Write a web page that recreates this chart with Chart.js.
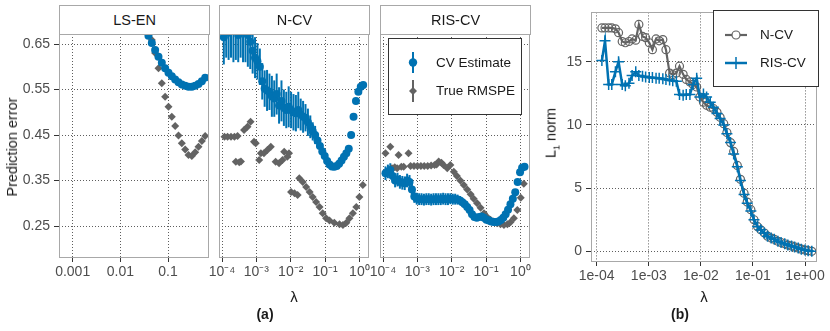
<!DOCTYPE html>
<html>
<head>
<meta charset="utf-8">
<script src="https://cdn.jsdelivr.net/npm/chart.js"></script>
<style>
  body { margin: 0; background: #fff; font-family: "Liberation Sans", Arial, sans-serif; }
  #page { position: relative; width: 830px; height: 331px; overflow: hidden; }
  canvas { position: absolute; left: 0; top: 0; }
  .strip { position: absolute; top: 5px; height: 30px; box-sizing: border-box; border: 1px solid #a8a8a8; background: #fff;
           text-align: center; line-height: 28px; font-size: 14.5px; color: #1a1a1a; }
  .txt { position: absolute; transform: translate(-50%, -50%); white-space: nowrap; color: #1a1a1a; }
  .rot { transform: translate(-50%, -50%) rotate(-90deg); }
</style>
</head>
<body>
<div id="page">
  <canvas id="cLs" width="830" height="331"></canvas>
  <canvas id="cNcv" width="830" height="331"></canvas>
  <canvas id="cRis" width="830" height="331"></canvas>
  <canvas id="cL1" width="830" height="331"></canvas>

  <div class="strip" style="left:59px;width:151px;">LS-EN</div>
  <div class="strip" style="left:219px;width:151px;">N-CV</div>
  <div class="strip" style="left:380px;width:151px;">RIS-CV</div>

  <div class="txt rot" style="left:12px;top:147px;font-size:14.5px;">Prediction error</div>
  <div class="txt" style="left:294px;top:296px;font-size:15px;">λ</div>
  <div class="txt" style="left:265px;top:314px;font-size:14px;font-weight:bold;">(a)</div>
  <div class="txt rot" style="left:552px;top:133px;font-size:14.5px;">L<sub style="font-size:9px;">1</sub> norm</div>
  <div class="txt" style="left:704px;top:296px;font-size:15px;">λ</div>
  <div class="txt" style="left:680px;top:314px;font-size:14px;font-weight:bold;">(b)</div>
</div>

<script>
// datos: exponentes de lambda (base 10) y valores
const lsLamExp = [-1.41,-1.34,-1.27,-1.20,-1.13,-1.06,-0.99,-0.92,-0.85,-0.78,-0.71,-0.64,-0.57,-0.50,-0.43,-0.36,-0.29,-0.22];
const lsCv     = [0.668,0.652,0.637,0.622,0.609,0.597,0.587,0.579,0.572,0.566,0.561,0.558,0.556,0.556,0.558,0.562,0.568,0.576];
const lsTrue   = [0.675,0.659,0.630,0.597,0.564,0.534,0.512,0.490,0.470,0.449,0.432,0.418,0.406,0.404,0.412,0.424,0.437,0.448];

const ncvCvExp = [-3.95,-3.88,-3.81,-3.74,-3.67,-3.60,-3.53,-3.46,-3.39,-3.32,
                  -3.25,-3.18,-3.11,-3.04,-2.97,-2.90,-2.83,-2.76,-2.69,-2.62,
                  -2.55,-2.48,-2.41,-2.34,-2.27,-2.20,-2.13,-2.06,-1.99,-1.92,
                  -1.85,-1.78,-1.71,-1.64,-1.57,-1.50,-1.43,-1.36,-1.29,-1.22,
                  -1.15,-1.08,-1.01,-0.94,-0.87,-0.80,-0.73,-0.66,-0.59,-0.52,
                  -0.45,-0.38,-0.31,-0.24,-0.17,-0.10,-0.03,0.04,0.11];
const ncvCv    = [0.665,0.69,0.675,0.70,0.68,0.695,0.67,0.70,0.68,0.69,
                  0.67,0.655,0.635,0.62,0.612,0.60,0.568,0.552,0.548,0.545,
                  0.535,0.53,0.54,0.515,0.525,0.51,0.505,0.512,0.505,0.50,
                  0.498,0.505,0.495,0.49,0.488,0.478,0.468,0.458,0.45,0.438,
                  0.426,0.414,0.404,0.393,0.385,0.381,0.38,0.382,0.387,0.394,
                  0.402,0.41,0.42,0.45,0.49,0.525,0.545,0.556,0.56];
const ncvCvErr = [0.06,0.07,0.06,0.08,0.07,0.08,0.06,0.08,0.07,0.08,
                  0.07,0.06,0.05,0.045,0.04,0.04,0.04,0.04,0.045,0.04,
                  0.045,0.04,0.045,0.04,0.045,0.04,0.04,0.045,0.04,0.04,
                  0.04,0.04,0.035,0.035,0.03,0.03,0.025,0.02,0.02,0.015,
                  0.015,0.01,0.01,0.008,0.006,0.005,0.005,0.005,0.005,0.005,
                  0.004,0.004,0.004,0.004,0.004,0.004,0.004,0.004,0.004];
const ncvTrueExp = [-3.93,-3.84,-3.74,-3.64,-3.55,-3.60,-3.50,-3.45,-3.36,-3.26,-3.17,-3.07,-3.02,-2.92,-2.87,-2.78,
                    -2.68,-2.58,-2.44,-2.34,-2.24,-2.19,-2.10,-2.05,-1.99,-1.89,-1.80,-1.75,-1.65,-1.55,-1.45,-1.36,
                    -1.26,-1.16,-1.07,-0.97,-0.87,-0.73,-0.58,-0.48,-0.38,-0.29,-0.19,-0.09,0.00,0.10];
const ncvTrue    = [0.446,0.446,0.446,0.446,0.448,0.391,0.390,0.392,0.461,0.468,0.479,0.435,0.432,0.395,0.41,0.41,
                    0.417,0.424,0.391,0.388,0.395,0.413,0.402,0.41,0.325,0.322,0.318,0.355,0.347,0.336,0.325,0.314,
                    0.303,0.292,0.278,0.267,0.262,0.257,0.254,0.252,0.257,0.267,0.278,0.292,0.314,0.34];

const risCvExp = [-3.93,-3.86,-3.79,-3.72,-3.65,-3.58,-3.51,-3.44,-3.37,-3.30,
                  -3.23,-3.16,-3.09,-3.02,-2.95,-2.88,-2.81,-2.74,-2.67,-2.60,
                  -2.53,-2.46,-2.39,-2.32,-2.25,-2.18,-2.11,-2.04,-1.97,-1.90,
                  -1.83,-1.76,-1.69,-1.62,-1.55,-1.48,-1.41,-1.34,-1.27,-1.20,
                  -1.13,-1.06,-0.99,-0.92,-0.85,-0.78,-0.71,-0.64,-0.57,-0.50,
                  -0.43,-0.36,-0.29,-0.22,-0.15,-0.08,-0.01,0.05,0.12];
const risCv    = [0.366,0.37,0.373,0.36,0.35,0.352,0.347,0.345,0.344,0.35,
                  0.347,0.33,0.315,0.31,0.309,0.309,0.308,0.309,0.309,0.308,
                  0.309,0.309,0.309,0.309,0.31,0.309,0.309,0.31,0.309,0.309,
                  0.308,0.306,0.302,0.298,0.292,0.285,0.276,0.27,0.268,0.27,
                  0.271,0.268,0.264,0.262,0.26,0.259,0.259,0.26,0.263,0.268,
                  0.276,0.286,0.298,0.31,0.324,0.347,0.368,0.378,0.38];
const risCvErr = [0.015,0.015,0.015,0.015,0.015,0.015,0.015,0.015,0.015,0.015,
                  0.015,0.015,0.014,0.013,0.013,0.013,0.013,0.013,0.013,0.013,
                  0.013,0.013,0.013,0.013,0.013,0.013,0.013,0.012,0.012,0.012,
                  0.011,0.01,0.01,0.008,0.008,0.007,0.007,0.006,0.006,0.006,
                  0.005,0.005,0.005,0.005,0.005,0.004,0.004,0.004,0.004,0.004,
                  0.004,0.004,0.004,0.004,0.004,0.004,0.004,0.004,0.004];
const risTrueExp = [-3.93,-3.79,-3.74,-3.66,-3.59,-3.55,-3.47,-3.40,-3.26,-3.20,-3.10,-3.00,-2.90,-2.80,-2.70,
                    -2.60,-2.50,-2.44,-2.38,-2.30,-2.24,-2.13,-2.04,-1.94,-1.85,-1.75,-1.65,-1.55,-1.45,-1.36,
                    -1.26,-1.16,-1.06,-0.97,-0.87,-0.78,-0.68,-0.58,-0.48,-0.38,-0.29,-0.19,-0.09,0.01,0.10];
const risTrue    = [0.41,0.424,0.377,0.379,0.377,0.406,0.38,0.38,0.41,0.382,0.382,0.382,0.382,0.382,0.382,
                    0.383,0.384,0.385,0.392,0.389,0.384,0.377,0.384,0.369,0.36,0.35,0.34,0.33,0.32,0.31,
                    0.30,0.29,0.278,0.27,0.264,0.26,0.256,0.254,0.252,0.254,0.258,0.267,0.285,0.312,0.343];

const l1LamExp = [-3.90,-3.84,-3.77,-3.71,-3.64,-3.58,-3.51,-3.45,-3.38,-3.32,
                  -3.25,-3.19,-3.12,-3.06,-2.99,-2.93,-2.86,-2.80,-2.73,-2.67,
                  -2.60,-2.54,-2.47,-2.41,-2.34,-2.28,-2.21,-2.15,-2.08,-2.02,
                  -1.95,-1.89,-1.82,-1.76,-1.69,-1.63,-1.56,-1.50,-1.43,-1.37,
                  -1.30,-1.24,-1.17,-1.11,-1.04,-0.98,-0.91,-0.85,-0.78,-0.72,
                  -0.65,-0.59,-0.52,-0.46,-0.39,-0.33,-0.26,-0.20,-0.13,-0.07,
                  0.00,0.06,0.13];
const l1Ncv = [17.67,17.67,17.67,17.67,17.6,17.3,16.6,16.5,16.6,16.8,
               16.7,17.95,17.0,16.9,16.5,15.95,16.8,16.65,16.75,15.95,
               14.1,13.98,14.1,14.65,14.0,13.6,13.4,13.2,13.0,12.2,
               11.8,11.55,11.4,11.3,11.0,10.6,10.1,9.4,8.6,7.9,
               6.8,5.7,4.6,3.9,3.3,2.5,1.95,1.7,1.45,1.2,
               1.05,0.95,0.8,0.7,0.6,0.5,0.43,0.35,0.26,0.17,
               0.1,0.05,0.0];
const l1Ris = [15.1,16.65,13.2,13.2,14.2,15.0,13.2,13.1,13.3,13.9,
               14.2,13.9,13.85,13.8,13.75,13.75,13.7,13.7,13.65,13.6,
               13.55,13.5,13.45,12.4,12.35,12.4,12.4,13.2,13.7,12.2,
               12.45,12.2,11.8,11.4,10.9,10.5,10.0,9.3,8.6,7.7,
               6.7,5.6,4.5,3.8,3.2,2.5,1.95,1.7,1.45,1.2,
               1.05,0.95,0.8,0.7,0.6,0.5,0.43,0.35,0.26,0.17,
               0.1,0.05,0.0];

// ticks
const ticksErr = [0.25, 0.35, 0.45, 0.55, 0.65];
const ticksLs = [0.001, 0.01, 0.1];
const labelsLs = ['0.001', '0.01', '0.1'];
const ticksCv = [1e-4, 1e-3, 1e-2, 1e-1, 1];
const labelsCv = ['10⁻⁴', '10⁻³', '10⁻²', '10⁻¹', '10⁰'];
const labelsL1x = ['1e-04', '1e-03', '1e-02', '1e-01', '1e+00'];
const ticksL1 = [0, 5, 10, 15];

Chart.defaults.font.family = '"Liberation Sans", Arial, sans-serif';

const azul = '#0072B2';
const gris = '#636363';
const rejilla = '#5e5e5e';
const fuente = '13.5px "Liberation Sans", Arial, sans-serif';

function puntos(exps, vals) {
  return exps.map((e, i) => ({ x: Math.pow(10, e), y: vals[i] }));
}

// barras de error verticales (usa las escalas del grafico)
const barras = {
  id: 'barras',
  beforeDatasetsDraw(chart) {
    const ctx = chart.ctx, a = chart.chartArea;
    const xs = chart.scales.x, ys = chart.scales.y;
    ctx.save();
    ctx.beginPath();
    ctx.rect(a.left, a.top, a.right - a.left, a.bottom - a.top);
    ctx.clip();
    chart.data.datasets.forEach(ds => {
      if (!ds.errs) return;
      ctx.strokeStyle = ds.backgroundColor;
      ctx.lineWidth = 2;
      ds.data.forEach((p, i) => {
        const e = ds.errs[i];
        if (!e) return;
        const px = xs.getPixelForValue(p.x);
        ctx.beginPath();
        ctx.moveTo(px, ys.getPixelForValue(p.y - e));
        ctx.lineTo(px, ys.getPixelForValue(p.y + e));
        ctx.stroke();
      });
    });
    ctx.restore();
  }
};

// marco del panel
const marco = {
  id: 'marco',
  afterDraw(chart) {
    const ctx = chart.ctx, a = chart.chartArea;
    ctx.save();
    ctx.strokeStyle = '#a8a8a8';
    ctx.lineWidth = 1;
    ctx.strokeRect(Math.round(a.left) + 0.5, Math.round(a.top) + 0.5,
                   Math.round(a.right - a.left) - 1, Math.round(a.bottom - a.top) - 1);
    ctx.restore();
  }
};

const leyendaA = {
  id: 'leyendaA',
  afterDraw(chart) {
    const ctx = chart.ctx;
    ctx.save();
    ctx.fillStyle = '#fff';
    ctx.fillRect(388, 38, 134, 77);
    ctx.strokeStyle = '#333';
    ctx.lineWidth = 1;
    ctx.strokeRect(388.5, 38.5, 133, 76);
    // CV Estimate
    ctx.strokeStyle = azul; ctx.lineWidth = 2;
    ctx.beginPath(); ctx.moveTo(413, 52); ctx.lineTo(413, 73); ctx.stroke();
    ctx.fillStyle = azul;
    ctx.beginPath(); ctx.arc(413, 62.5, 4.2, 0, 2 * Math.PI); ctx.fill();
    // True RMSPE
    ctx.strokeStyle = gris;
    ctx.beginPath(); ctx.moveTo(413, 80); ctx.lineTo(413, 102); ctx.stroke();
    ctx.fillStyle = gris;
    ctx.beginPath(); ctx.moveTo(413, 87); ctx.lineTo(417, 91); ctx.lineTo(413, 95); ctx.lineTo(409, 91); ctx.closePath(); ctx.fill();
    ctx.fillStyle = '#1a1a1a';
    ctx.font = fuente;
    ctx.textBaseline = 'middle';
    ctx.fillText('CV Estimate', 436, 63);
    ctx.fillText('True RMSPE', 436, 91.5);
    ctx.restore();
  }
};

const leyendaB = {
  id: 'leyendaB',
  afterDraw(chart) {
    const ctx = chart.ctx;
    ctx.save();
    ctx.fillStyle = '#fff';
    ctx.fillRect(713, 10, 106, 77);
    ctx.strokeStyle = '#333';
    ctx.lineWidth = 1;
    ctx.strokeRect(713.5, 10.5, 105, 76);
    // N-CV
    ctx.strokeStyle = gris; ctx.lineWidth = 2.2;
    ctx.beginPath(); ctx.moveTo(725, 35); ctx.lineTo(747, 35); ctx.stroke();
    ctx.lineWidth = 1.2;
    ctx.beginPath(); ctx.arc(736, 35, 4, 0, 2 * Math.PI); ctx.fillStyle = '#fff'; ctx.fill(); ctx.stroke();
    // RIS-CV
    ctx.strokeStyle = azul; ctx.lineWidth = 2.5;
    ctx.beginPath(); ctx.moveTo(725, 63); ctx.lineTo(747, 63); ctx.stroke();
    ctx.lineWidth = 1.5;
    ctx.beginPath(); ctx.moveTo(736, 57); ctx.lineTo(736, 69); ctx.moveTo(730, 63); ctx.lineTo(742, 63); ctx.stroke();
    ctx.fillStyle = '#1a1a1a';
    ctx.font = fuente;
    ctx.textBaseline = 'middle';
    ctx.fillText('N-CV', 760, 35.5);
    ctx.fillText('RIS-CV', 760, 63.5);
    ctx.restore();
  }
};

function ejeX(minExp, maxExp, ticks, labels, alto) {
  return {
    type: 'logarithmic',
    position: 'bottom',
    min: Math.pow(10, minExp),
    max: Math.pow(10, maxExp),
    afterBuildTicks: ax => { ax.ticks = ticks.map(v => ({ value: v })); },
    afterFit: ax => { ax.height = alto; },
    ticks: { callback: (v, i) => labels[i], autoSkip: false, maxRotation: 0, minRotation: 0,
             color: '#4d4d4d', font: { size: 14 }, padding: 2 },
    grid: { color: rejilla, lineWidth: 1, tickColor: '#333', tickLength: 4, tickWidth: 1, tickBorderDash: [] },
    border: { display: false, dash: [1, 2] }
  };
}

function ejeY(min, max, ticks, fmt, ancho, mostrar) {
  return {
    type: 'linear',
    min: min,
    max: max,
    afterBuildTicks: ax => { ax.ticks = ticks.map(v => ({ value: v })); },
    afterFit: ax => { ax.width = ancho; },
    ticks: { display: mostrar, callback: v => fmt(v), color: '#4d4d4d', font: { size: 14 }, padding: 4 },
    grid: { color: rejilla, lineWidth: 1, tickColor: '#333', tickLength: 5, tickWidth: 1,
            drawTicks: mostrar, tickBorderDash: [] },
    border: { display: false, dash: [1, 2] }
  };
}

function crearPanel(id, area, anchoY, altoX, ejeXcfg, ejeYcfg, datasets, extra) {
  let canvas = document.getElementById(id);
  return new Chart(canvas, {
    type: 'scatter',
    data: { datasets: datasets },
    options: {
      responsive: false,
      devicePixelRatio: 1,
      animation: false,
      events: [],
      layout: { padding: { left: area.l - anchoY, top: area.t, right: 830 - area.r, bottom: 331 - area.b - altoX } },
      plugins: { legend: { display: false }, tooltip: { enabled: false } },
      scales: { x: ejeXcfg, y: ejeYcfg }
    },
    plugins: [barras, marco].concat(extra || [])
  });
}

function serieCv(exps, vals, errs) {
  return { data: puntos(exps, vals), errs: errs, backgroundColor: azul, borderWidth: 0,
           pointStyle: 'circle', pointRadius: 4, clip: 0 };
}
function serieTrue(exps, vals) {
  return { data: puntos(exps, vals), backgroundColor: gris, borderWidth: 0,
           pointStyle: 'rectRot', pointRadius: 4, clip: 0 };
}

const fmtErr = v => v.toFixed(2);

// panel LS-EN
crearPanel('cLs', { l: 59, t: 34, r: 209, b: 258 }, 40, 30,
  ejeX(-3.287, -0.14, ticksLs, labelsLs, 30),
  ejeY(0.1797, 0.672, ticksErr, fmtErr, 40, true),
  [serieCv(lsLamExp, lsCv, null), serieTrue(lsLamExp, lsTrue)]);

// panel N-CV
crearPanel('cNcv', { l: 219, t: 34, r: 369, b: 258 }, 0, 30,
  ejeX(-4.09, 0.28, ticksCv, labelsCv, 30),
  ejeY(0.1797, 0.672, ticksErr, fmtErr, 0, false),
  [serieCv(ncvCvExp, ncvCv, ncvCvErr), serieTrue(ncvTrueExp, ncvTrue)]);

// panel RIS-CV
crearPanel('cRis', { l: 380, t: 34, r: 530, b: 258 }, 0, 30,
  ejeX(-4.09, 0.28, ticksCv, labelsCv, 30),
  ejeY(0.1797, 0.672, ticksErr, fmtErr, 0, false),
  [serieCv(risCvExp, risCv, risCvErr), serieTrue(risTrueExp, risTrue)],
  [leyendaA]);

// panel (b): norma L1
crearPanel('cL1', { l: 591, t: 4, r: 817, b: 262 }, 40, 30,
  ejeX(-4.109, 0.23, ticksCv, labelsL1x, 30),
  ejeY(-0.842, 18.9, ticksL1, v => String(v), 40, true),
  [
    { data: puntos(l1LamExp, l1Ris), showLine: true, borderColor: azul, borderWidth: 2.5,
      pointStyle: 'cross', pointRadius: 5.5, pointBorderColor: azul, pointBorderWidth: 1.5, tension: 0, clip: 0 },
    { data: puntos(l1LamExp, l1Ncv), showLine: true, borderColor: gris, borderWidth: 2.2,
      pointStyle: 'circle', pointRadius: 4, pointBorderColor: gris, pointBackgroundColor: 'rgba(0,0,0,0)',
      pointBorderWidth: 1.2, tension: 0, clip: 0 }
  ],
  [leyendaB]);
</script>
</body>
</html>
